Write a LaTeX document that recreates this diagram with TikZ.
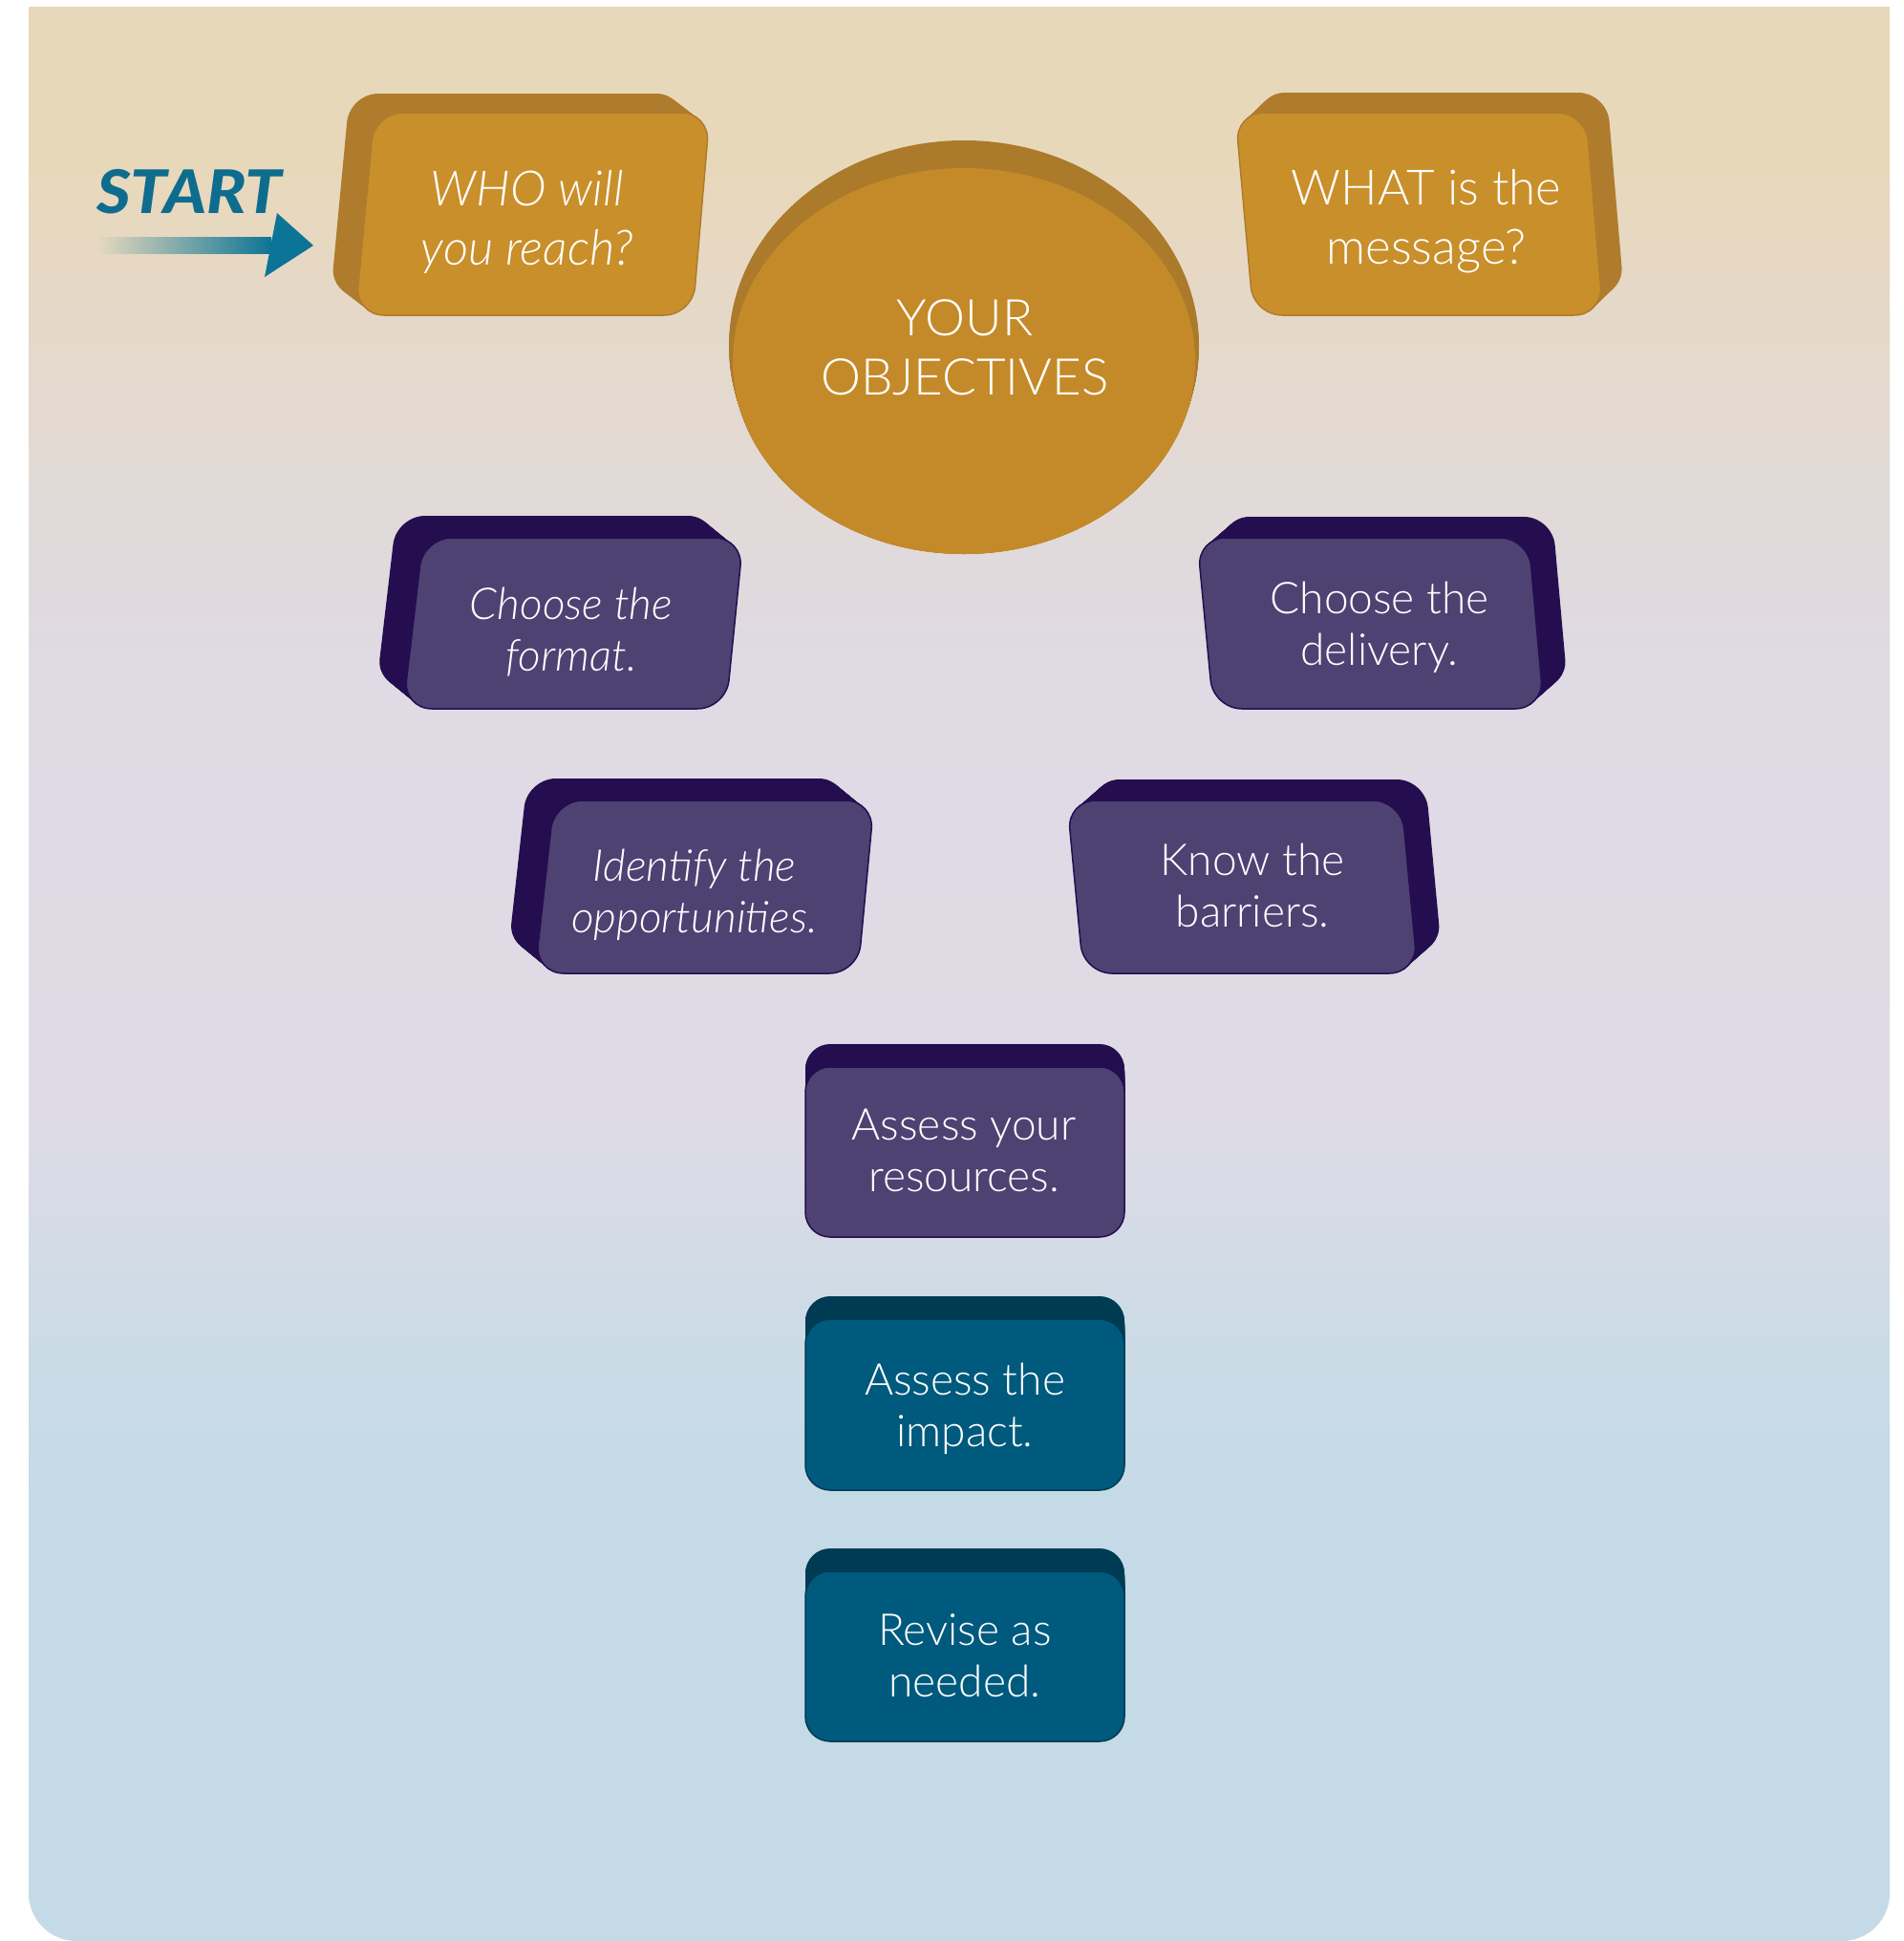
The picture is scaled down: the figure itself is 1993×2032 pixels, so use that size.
\documentclass[tikz,border=0pt]{standalone}
\usepackage{fontspec}
\IfFontExistsTF{Lato Light}{%
  \IfFontExistsTF{Lato Light Italic}%
    {\setmainfont{Lato Light}[ItalicFont={Lato Light Italic}]}%
    {\setmainfont{Lato Light}}}%
  {\setmainfont{Lato}}
\IfFontExistsTF{Lato Black Italic}%
  {\newfontfamily\startfont{Lato Black Italic}}%
  {\newfontfamily\startfont{Lato}[UprightFont={* Bold Italic}]}
\definecolor{bg0}{RGB}{232,216,186}
\definecolor{bg1}{RGB}{230,216,198}
\definecolor{bg2}{RGB}{225,218,216}
\definecolor{bg3}{RGB}{223,218,228}
\definecolor{bg4}{RGB}{222,219,230}
\definecolor{bg5}{RGB}{202,219,230}
\definecolor{bg6}{RGB}{196,218,231}
\definecolor{goldF}{RGB}{201,143,43}
\definecolor{goldB}{RGB}{174,124,44}
\definecolor{ellF}{RGB}{196,138,41}
\definecolor{ellB}{RGB}{171,122,43}
\definecolor{purF}{RGB}{78,66,115}
\definecolor{purB}{RGB}{36,14,79}
\definecolor{tealF}{RGB}{0,90,125}
\definecolor{tealB}{RGB}{0,59,84}
\definecolor{startC}{RGB}{14,109,142}
\definecolor{arrowC}{RGB}{12,116,150}
\definecolor{arrowBg}{RGB}{231,217,190}
% the path box is mapped onto 25bp..75bp of the shading
\pgfdeclareverticalshading{bgshade}{100bp}{color(0bp)=(bg6); color(25bp)=(bg6); color(35.7bp)=(bg6); color(40.1bp)=(bg5); color(46.3bp)=(bg4); color(57.9bp)=(bg3); color(62.1bp)=(bg2); color(67.8bp)=(bg1); color(71bp)=(bg0); color(100bp)=(bg0)}
\newcommand\lnstrut{\vphantom{Ahy}}
% #1 front path, #2 dx, #3 dy, #4 back colour, #5 front colour, #6 radius
\newcommand\slab[6]{%
  \foreach \t in {0,0.04,...,1.001}{%
    \fill[#4,rounded corners=#6,shift={({#2*(1-\t)},{#3*(1-\t)})}] #1 -- cycle;}
  \filldraw[fill=#5,draw=#4,line width=1.5,rounded corners=#6] #1 -- cycle;}
\begin{document}
\begin{tikzpicture}[x=1pt,y=-1pt,
  lbl/.style={text=white,align=center,inner sep=0pt},
  goldtxt/.style={lbl,font=\fontsize{51}{62}\selectfont},
  purtxt/.style={lbl,font=\fontsize{46}{54}\selectfont}]
\useasboundingbox (0,0) rectangle (1993,2032);
\fill[white] (0,0) rectangle (1993,2032);
% background panel
\shade[shading=bgshade] (30,7) -- (1978,7) -- (1978,1982)
  arc[start angle=0,end angle=90,radius=50] -- (80,2032)
  arc[start angle=90,end angle=180,radius=50] -- cycle;

% ellipse
\foreach \t in {0,0.05,...,1.001}{%
  \fill[ellB] (1009,{362+16*\t}) ellipse [x radius={246-4*\t}, y radius={215-13*\t}];}
\fill[ellF] (1009,378) ellipse [x radius=242, y radius=202];
\node[lbl,font=\fontsize{53}{62}\selectfont] (obj) at (1010,368) {\lnstrut YOUR\\\lnstrut OBJECTIVES};

% gold boxes
\slab{(392,118) -- (743,118) -- (725,330) -- (372,330)}{-26}{-20}{goldB}{goldF}{30}
\node[goldtxt,font=\fontsize{51}{62}\selectfont\itshape] (who) at (552,232) {\lnstrut WHO will\\\lnstrut you reach?};
\slab{(1293,118) -- (1660,118) -- (1678,330) -- (1312,330)}{22}{-21}{goldB}{goldF}{30}
\node[goldtxt] (what) at (1493,232) {\lnstrut WHAT is the\\\lnstrut message?};

% purple boxes
\slab{(443,563) -- (778,563) -- (760,742) -- (422,742)}{-28}{-23}{purB}{purF}{30}
\node[purtxt,font=\fontsize{46}{54}\selectfont\itshape] (format) at (598,663) {\lnstrut Choose the\\\lnstrut format.};
\slab{(1253,563) -- (1600,563) -- (1616,742) -- (1270,742)}{25}{-22}{purB}{purF}{30}
\node[purtxt] (delivery) at (1444,657) {\lnstrut Choose the\\\lnstrut delivery.};
\slab{(580,838) -- (915,838) -- (898,1019) -- (560,1019)}{-28}{-23}{purB}{purF}{30}
\node[purtxt,font=\fontsize{46}{54}\selectfont\itshape] (identify) at (727,937) {\lnstrut Identify the\\\lnstrut opportunities.};
\slab{(1117,838) -- (1467,838) -- (1484,1019) -- (1134,1019)}{25}{-22}{purB}{purF}{30}
\node[purtxt] (know) at (1311,931) {\lnstrut Know the\\\lnstrut barriers.};

% centre column
\slab{(843,1117) -- (1177,1117) -- (1177,1295) -- (843,1295)}{0}{-24}{purB}{purF}{26}
\node[purtxt] (resources) at (1009,1208) {\lnstrut Assess your\\\lnstrut resources.};
\slab{(843,1381) -- (1177,1381) -- (1177,1560) -- (843,1560)}{0}{-24}{tealB}{tealF}{26}
\node[purtxt] (impact) at (1010,1475) {\lnstrut Assess the\\\lnstrut impact.};
\slab{(843,1645) -- (1177,1645) -- (1177,1823) -- (843,1823)}{0}{-24}{tealB}{tealF}{26}
\node[purtxt] (revise) at (1010,1737) {\lnstrut Revise as\\\lnstrut needed.};

% START and arrow
\node[inner sep=0pt,anchor=base,text=startC,font=\fontsize{63}{63}\selectfont\startfont] (start) at (198,223) {\scalebox{1.09}[1]{START}};
\coordinate (arrtail) at (102,257);
\coordinate (arrtip) at (328,257);
\shade[left color=arrowBg,right color=arrowC] (arrtail) ++(0,-8.5) rectangle (284,265.5);
\fill[arrowC] (290,223) -- (arrtip) -- (277,290) -- cycle;
\end{tikzpicture}
\end{document}
